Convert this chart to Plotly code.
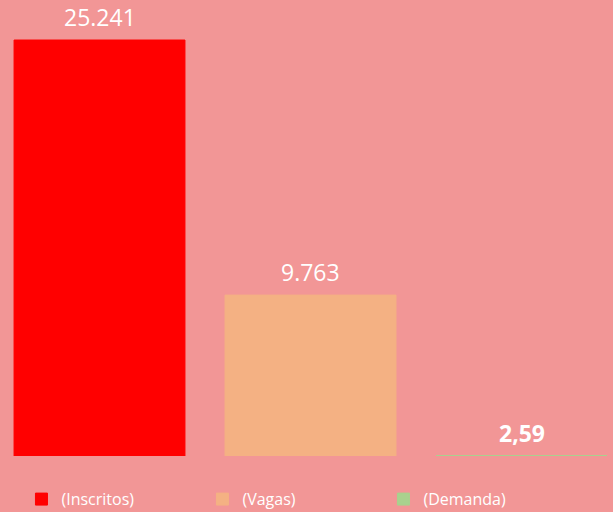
import plotly.graph_objects as go

categories = ["(Inscritos)", "(Vagas)", "(Demanda)"]
values = [25241, 9763, 2.59]
labels = ["25.241", "9.763", "2,59"]
colors = ["#FF0000", "#F4B183", "#A9D18E"]
bold = [False, False, True]

bg = "#F29696"
bar_width = 0.81

fig = go.Figure()
for cat, val, col in zip(categories, values, colors):
    fig.add_trace(go.Bar(
        x=[cat], y=[val], name=cat, width=bar_width,
        marker=dict(color=col, line=dict(color=col, width=1)),
        hoverinfo="skip",
    ))

# tiny bars collapse to nothing, so outline their top edge like Excel does
for i, (val, col) in enumerate(zip(values, colors)):
    if val < max(values) * 0.005:
        fig.add_shape(type="line", xref="x", yref="y",
                      x0=i - bar_width / 2, x1=i + bar_width / 2, y0=val, y1=val,
                      line=dict(color=col, width=2))

for cat, val, lab, b in zip(categories, values, labels, bold):
    fig.add_annotation(
        x=cat, y=val, text=f"<b>{lab}</b>" if b else lab,
        showarrow=False, yanchor="bottom", yshift=5,
        font=dict(family="Open Sans", size=23, color="white"),
    )

fig.update_layout(
    width=613, height=512,
    paper_bgcolor=bg, plot_bgcolor=bg,
    barmode="overlay",
    margin=dict(l=0, r=0, t=0, b=56),
    xaxis=dict(range=[-0.4716, 2.4336], showticklabels=False, showgrid=False,
               zeroline=False, showline=False),
    yaxis=dict(range=[0, max(values) * 1.0962], visible=False),
    showlegend=True,
    legend=dict(orientation="h", x=0.035, xanchor="left",
                yref="container", y=0.025, yanchor="middle",
                entrywidth=136, itemwidth=30,
                font=dict(family="Open Sans", size=16, color="white"),
                bgcolor="rgba(0,0,0,0)"),
)

fig.write_html("out.html", config={"displayModeBar": False},
               post_script="document.body.style.margin='0';")
